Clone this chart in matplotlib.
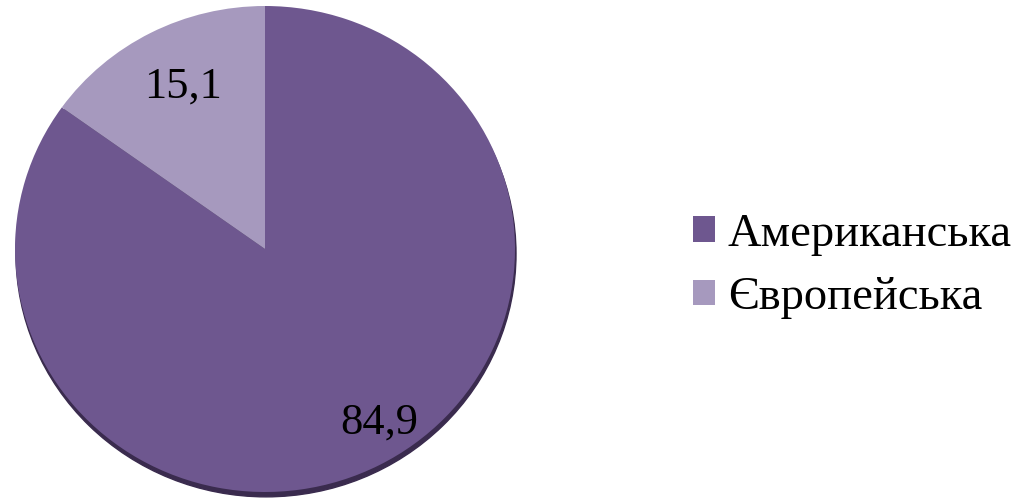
import matplotlib.pyplot as plt
from matplotlib.patches import Ellipse

labels = ['Американська', 'Європейська']
values = [84.9, 15.1]
colors = ['#6e578f', '#a699be']

W, H = 1029, 504
# pie is drawn slightly squashed vertically
sy = 250 / 243
ylim_top = H * sy

fig = plt.figure(figsize=(10.29, 5.04), dpi=100)
ax = fig.add_axes([0, 0, 1, 1])

def py(y_from_top):
    return (H - y_from_top) * sy

cx, cy, r = 265, py(249), 250

# dark rim along the lower edge
ax.add_patch(Ellipse((cx + 1, cy - 5), 2 * r, 2 * r, color='#3a2b4e', zorder=0))

wedges, _ = ax.pie(values, colors=colors, startangle=90, counterclock=False,
                   center=(cx, cy), radius=r, frame=True)
ax.set_aspect('auto')
ax.set_xlim(0, W)
ax.set_ylim(0, ylim_top)
ax.axis('off')

font = 'Liberation Serif'
fmt = lambda v: f'{v:.1f}'.replace('.', ',')
ax.text(183, py(98), fmt(values[1]), fontsize=32, family=font, ha='center', va='baseline')
ax.text(379, py(434), fmt(values[0]), fontsize=32, family=font, ha='center', va='baseline')

leg = ax.legend(wedges, labels, loc='center left', bbox_to_anchor=(693 / W, 0.472),
                frameon=False, prop={'family': font, 'size': 33.5},
                handlelength=0.47, handleheight=0.47, handletextpad=0.28,
                labelspacing=0.45, borderaxespad=0, borderpad=0)

fig.savefig('out.png', dpi=100)
